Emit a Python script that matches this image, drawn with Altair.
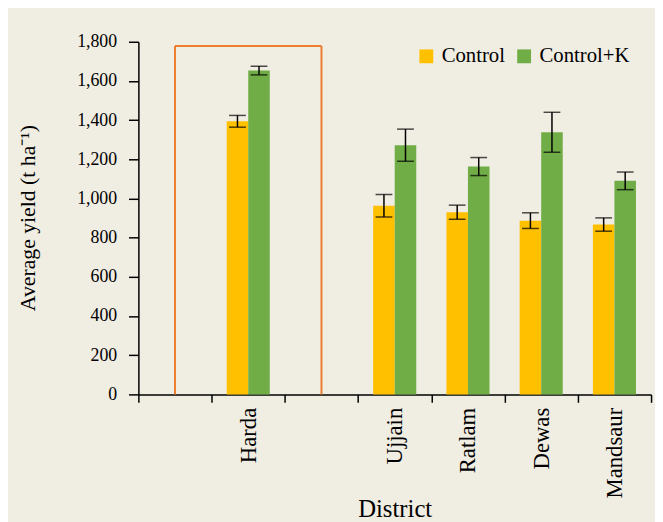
import altair as alt
import pandas as pd

# ---- data ----
order = ["_a", "Harda", "_b", "Ujjain", "Ratlam", "Dewas", "Mandsaur"]
districts = ["Harda", "Ujjain", "Ratlam", "Dewas", "Mandsaur"]
series = ["Control", "Control+K"]
control = [1394, 963, 930, 887, 867]
control_err = [30, 57, 36, 40, 34]
control_k = [1653, 1272, 1163, 1338, 1090]
control_k_err = [22, 82, 46, 102, 45]
box_top = [1778]
y_ticks = [0, 200, 400, 600, 800, 1000, 1200, 1400, 1600, 1800]

rows = []
for i, d in enumerate(districts):
    rows.append({"district": d, "series": "Control", "value": control[i],
                 "lo": control[i] - control_err[i], "hi": control[i] + control_err[i]})
    rows.append({"district": d, "series": "Control+K", "value": control_k[i],
                 "lo": control_k[i] - control_k_err[i], "hi": control_k[i] + control_k_err[i]})
df = pd.DataFrame(rows)
box = pd.DataFrame({"bx": ["_a"], "bx2": ["_b"], "top": box_top, "zero": [0]})

FONT = "Liberation Serif"
BG = "#f0ede3"

xscale = alt.Scale(domain=order, paddingInner=0, paddingOuter=0)
xoff = alt.XOffset("series:N", scale=alt.Scale(domain=series, paddingInner=0, paddingOuter=0.7))
yscale = alt.Scale(domain=[0, 1800], nice=False)

xaxis = alt.Axis(
    title="District", labelAngle=270, labelFontSize=23, labelFont=FONT, labelColor="black",
    labelExpr="indexof(datum.label, '_') == 0 ? '' : datum.label",
    tickBand="extent", tickSize=8, tickColor="black", tickWidth=1.5,
    domainColor="black", domainWidth=1.5, labelPadding=5, labelLimit=200,
    titleFont=FONT, titleFontSize=25, titleFontWeight="normal", titleColor="black",
    titleBaseline="alphabetic", titleY=124,
)
yaxis = alt.Axis(
    title="Average yield (t ha\u207b\u00b9)", values=y_ticks, format=",.0f",
    labelFont=FONT, labelFontSize=18, labelColor="black", labelPadding=12,
    tickSize=10, tickColor="black", tickWidth=1.5, domainColor="black", domainWidth=1.5,
    grid=False, titleFont=FONT, titleFontSize=22, titleFontWeight="normal", titleColor="black",
    titleX=-112, titleY=178, titleBaseline="middle",
)

X = lambda f: alt.X(f, scale=xscale, axis=xaxis)
Y = lambda f: alt.Y(f, scale=yscale, axis=yaxis)

bars = alt.Chart(df).mark_bar().encode(
    x=X("district:N"),
    xOffset=xoff,
    y=Y("value:Q"),
    color=alt.Color("series:N", scale=alt.Scale(domain=series, range=["#FFC000", "#70AD47"]),
                    legend=alt.Legend(title=None, orient="none", legendX=281, legendY=4,
                                      direction="horizontal", symbolType="square",
                                      symbolSize=196, symbolStrokeWidth=0, labelFont=FONT,
                                      labelFontSize=21, labelColor="black", columnPadding=8,
                                      labelOffset=5, labelLimit=200)),
)

err = alt.Chart(df).mark_rule(color="black", strokeWidth=1.5).encode(
    x=X("district:N"), xOffset=xoff, y=Y("lo:Q"), y2="hi:Q",
)
cap_lo = alt.Chart(df).mark_tick(color="black", thickness=1.5, size=17).encode(
    x=X("district:N"), xOffset=xoff, y=Y("lo:Q"),
)
cap_hi = alt.Chart(df).mark_tick(color="black", thickness=1.5, size=17).encode(
    x=X("district:N"), xOffset=xoff, y=Y("hi:Q"),
)

box_left = alt.Chart(box).mark_rule(color="#ED7D31", strokeWidth=2).encode(
    x=X("bx:N"), y=Y("zero:Q"), y2="top:Q")
box_right = alt.Chart(box).mark_rule(color="#ED7D31", strokeWidth=2).encode(
    x=X("bx2:N"), y=Y("zero:Q"), y2="top:Q")
box_top_line = alt.Chart(box).mark_rule(color="#ED7D31", strokeWidth=2).encode(
    x=X("bx:N"), x2="bx2:N", y=Y("top:Q"))

chart = alt.layer(box_left, box_right, box_top_line, bars, err, cap_lo, cap_hi).properties(
    width=519, height=357,
    autosize=alt.AutoSizeParams(type="none"),
    padding={"left": 132, "top": 31, "right": 4, "bottom": 126},
    background=BG,
).configure_view(stroke=None)

chart.save("out.html", embed_options={"renderer": "svg", "actions": False})
